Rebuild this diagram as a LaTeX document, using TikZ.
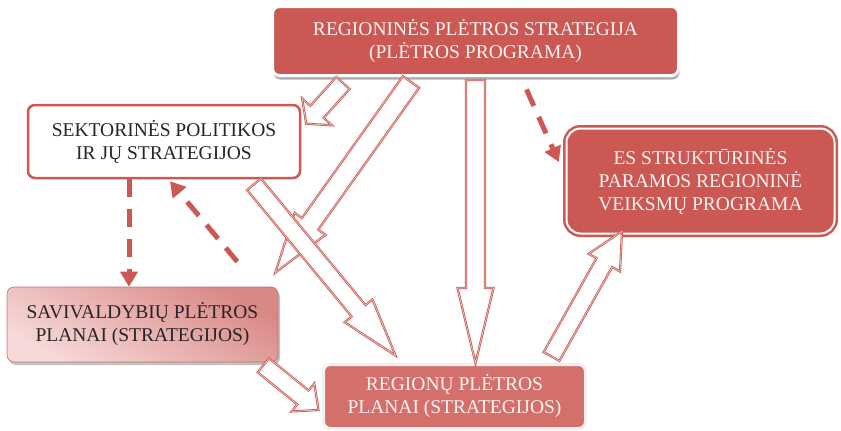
\documentclass[tikz,border=0pt]{standalone}
\usepackage{fontspec}
\setmainfont{Liberation Serif}
\usepackage{tikz}
\usetikzlibrary{calc,arrows.meta,shadows}
\definecolor{boxred}{HTML}{CB5852}
\definecolor{regred}{HTML}{D3706B}
\definecolor{savdark}{HTML}{D98886}
\definecolor{savlight}{HTML}{F6D9D8}
\definecolor{txtwhite}{HTML}{FFF4F2}
\newcommand{\blockarrow}[5]{%
  \path ($(#2)!#5!(#1)$) coordinate (hb);
  \draw[hollow] ($(#1)!#3!90:(#2)$) -- ($(hb)!#3!90:(#2)$) -- ($(hb)!#4!90:(#2)$) -- (#2)
    -- ($(hb)!#4!-90:(#2)$) -- ($(hb)!#3!-90:(#2)$) -- ($(#1)!#3!-90:(#2)$) -- cycle;
}
\tikzset{
  box/.style={rectangle, rounded corners=7pt, align=center, inner sep=0pt,
    font=\fontsize{19.5}{23}\selectfont},
  hollow/.style={draw=boxred, fill=white, line width=0.8pt, double=boxred!30,
    double distance=0.6pt, line join=miter},
  dasharrow/.style={draw=boxred, line width=5pt, dash pattern=on 18pt off 12pt,
    -{Triangle[length=15pt,width=17pt]}},
}

\begin{document}
\begin{tikzpicture}[x=1pt,y=1pt]
    \useasboundingbox (0,0) rectangle (841,-431);

    \node (top) at (475.5,-41) [box, minimum width=406pt, minimum height=69pt, fill=boxred,
      draw=white, line width=3pt, text=txtwhite,
      drop shadow={shadow xshift=1pt, shadow yshift=-4pt, fill=black!45, opacity=.7}]
      {REGIONINĖS PLĖTROS STRATEGIJA\\(PLĖTROS PROGRAMA)};

    \node (sek) at (164,-141.5) [box, minimum width=272pt, minimum height=73pt, fill=white,
      draw=boxred, line width=2.5pt, text=black!85]
      {SEKTORINĖS POLITIKOS\\IR JŲ STRATEGIJOS};

    \node (es) at (700.5,-181) [box, rounded corners=14pt, minimum width=268pt, minimum height=105pt,
      fill=boxred, draw=boxred, double=white, double distance=2pt, line width=2.5pt, text=txtwhite]
      {ES STRUKTŪRINĖS\\PARAMOS REGIONINĖ\\VEIKSMŲ PROGRAMA};

    \node (sav) at (142.5,-324.5) [box, minimum width=271pt, minimum height=75pt,
      draw=savdark!85!black, line width=.6pt, top color=savdark, bottom color=savlight,
      shading angle=-30, text=black!85,
      drop shadow={shadow xshift=2pt, shadow yshift=-3pt, fill=black!40, opacity=.6}]
      {SAVIVALDYBIŲ PLĖTROS\\PLANAI (STRATEGIJOS)};

    \node (reg) at (454.5,-396.5) [box, minimum width=262pt, minimum height=64pt, fill=regred,
      draw=gray!12, line width=3pt, text=txtwhite]
      {REGIONŲ PLĖTROS\\PLANAI (STRATEGIJOS)};

    \coordinate (a1) at ($(top.south west)+(72,-6)$);
    \coordinate (a2) at ($(sek.north east)+(5,-20)$);
    \coordinate (b1) at ($(top.south west)+(140,-5)$);
    \coordinate (b2) at ($(sav.north east)+(-3,14)$);
    \coordinate (c1) at ($(top.south)+(0,-3)$);
    \coordinate (d1) at ($(sek.south)+(90,-5)$);
    \coordinate (d2) at ($(reg.north west)+(73.5,7.5)$);
    \coordinate (e1) at ($(sav.south east)+(-15,-3)$);
    \coordinate (e2) at ($(reg.west)+(-3.5,-13.5)$);
    \coordinate (f1) at ($(reg.north east)+(-35.5,6.5)$);
    \coordinate (f2) at ($(es.south)+(-78.5,3.5)$);

    \blockarrow{a1}{a2}{9pt}{20pt}{16pt}
    \blockarrow{b1}{b2}{10pt}{19pt}{60pt}
    \blockarrow{c1}{c1 |- reg.north}{9.5pt}{18pt}{75pt}
    \blockarrow{d1}{d2}{9pt}{18pt}{58pt}
    \blockarrow{e1}{e2}{9pt}{18pt}{20pt}
    \blockarrow{f1}{f2}{9pt}{18pt}{36pt}

    \coordinate (g1) at ($(sek.south)+(-35,0)$);
    \coordinate (h1) at ($(sav.north east)+(-41,25)$);
    \coordinate (i1) at ($(top.south east)+(-153.5,-12.5)$);
    \draw[dasharrow] (g1) -- (g1 |- sav.north);
    \draw[dasharrow] (h1) -- ($(sek.south)+(6,-2)$);
    \draw[dasharrow] (i1) -- ($(es.west)+(-6.5,19)$);
\end{tikzpicture}
\end{document}
